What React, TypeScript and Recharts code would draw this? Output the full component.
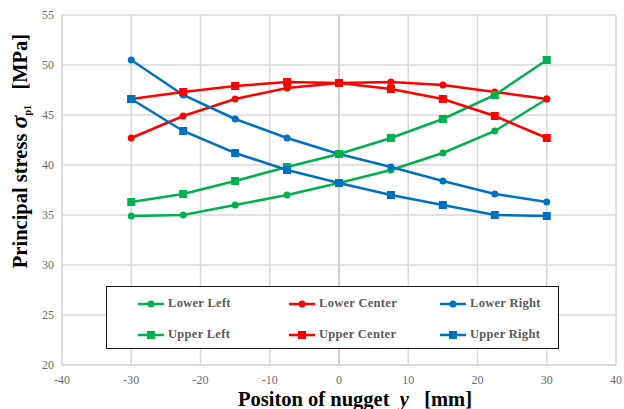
import { LineChart, Line, XAxis, YAxis, CartesianGrid, ReferenceLine, Label } from 'recharts';

const positions = [-30, -22.5, -15, -7.5, 0, 7.5, 15, 22.5, 30];
const lowerLeft = [34.9, 35.0, 36.0, 37.0, 38.2, 39.5, 41.2, 43.4, 46.6];
const lowerCenter = [42.7, 44.9, 46.6, 47.7, 48.2, 48.3, 48.0, 47.3, 46.6];
const lowerRight = [50.5, 47.0, 44.6, 42.7, 41.1, 39.8, 38.4, 37.1, 36.3];
const upperLeft = [36.3, 37.1, 38.4, 39.8, 41.1, 42.7, 44.6, 47.0, 50.5];
const upperCenter = [46.6, 47.3, 47.9, 48.3, 48.2, 47.6, 46.6, 44.9, 42.7];
const upperRight = [46.6, 43.4, 41.2, 39.5, 38.2, 37.0, 36.0, 35.0, 34.9];
const xTicks = [-40, -30, -20, -10, 0, 10, 20, 30, 40];
const yTicks = [20, 25, 30, 35, 40, 45, 50, 55];

const GREEN = '#00b050';
const RED = '#ff0000';
const BLUE = '#0070c0';

const data = positions.map((x, i) => ({
  x,
  ll: lowerLeft[i],
  lc: lowerCenter[i],
  lr: lowerRight[i],
  ul: upperLeft[i],
  uc: upperCenter[i],
  ur: upperRight[i],
}));

const series = [
  { key: 'll', name: 'Lower Left', color: GREEN, shape: 'circle' },
  { key: 'lc', name: 'Lower Center', color: RED, shape: 'circle' },
  { key: 'lr', name: 'Lower Right', color: BLUE, shape: 'circle' },
  { key: 'ul', name: 'Upper Left', color: GREEN, shape: 'square' },
  { key: 'uc', name: 'Upper Center', color: RED, shape: 'square' },
  { key: 'ur', name: 'Upper Right', color: BLUE, shape: 'square' },
];

const serif = "'Liberation Serif', 'Times New Roman', serif";

const squareDot = (color: string) => (props: any) => {
  const { cx, cy, index } = props;
  if (cx == null || cy == null) return <g key={index} />;
  return <rect key={index} x={cx - 4} y={cy - 4} width={8} height={8} fill={color} />;
};

function LegendBox() {
  return (
    <div
      style={{
        position: 'absolute',
        left: 106,
        top: 286,
        width: 453,
        height: 63,
        boxSizing: 'border-box',
        border: '1.5px solid #1a1a1a',
        background: '#fff',
        display: 'grid',
        gridTemplateColumns: '151px 151px 151px',
        gridTemplateRows: '31px 31px',
        paddingTop: 1,
        fontFamily: serif,
        fontWeight: 'bold',
        fontSize: 12.5,
        color: '#595959',
        letterSpacing: 0.3,
      }}
    >
      {series.map((s) => (
        <div key={s.key} style={{ display: 'flex', alignItems: 'center', paddingLeft: 30 }}>
          <svg width={28} height={10} style={{ marginRight: 3 }}>
            <line x1={1} y1={5} x2={27} y2={5} stroke={s.color} strokeWidth={2.5} />
            {s.shape === 'circle' ? (
              <circle cx={14} cy={5} r={3.5} fill={s.color} />
            ) : (
              <rect x={10} y={1} width={8} height={8} fill={s.color} />
            )}
          </svg>
          <span>{s.name}</span>
        </div>
      ))}
    </div>
  );
}

export default function App() {
  return (
    <div style={{ position: 'absolute', left: 0, top: 0, width: 624, height: 409, background: '#fff' }}>
      <LineChart
        width={624}
        height={409}
        data={data}
        margin={{ top: 15, right: 8, left: 0, bottom: 0 }}
        style={{ fontFamily: serif }}
      >
        <CartesianGrid stroke="#d9d9d9" strokeWidth={1.5} />
        <ReferenceLine x={0} stroke="#c8c8c8" strokeWidth={1.5} />
        <XAxis
          dataKey="x"
          type="number"
          domain={[-40, 40]}
          ticks={xTicks}
          interval={0}
          height={44}
          axisLine={{ stroke: '#d9d9d9', strokeWidth: 1.5 }}
          tickLine={false}
          tickMargin={4}
          tick={{ fill: '#6b6b6b', fontSize: 12, style: { fontFamily: serif } }}
        >
          <Label
            content={() => (
              <text x={355} y={406} textAnchor="middle" fontWeight="bold" fontSize={20.5} fill="#000" style={{ fontFamily: serif }}>
                Positon of nugget{'\u00a0\u00a0'}
                <tspan fontStyle="italic">y</tspan>
                {'\u00a0\u00a0\u00a0'}[mm]
              </text>
            )}
          />
        </XAxis>
        <YAxis
          type="number"
          domain={[20, 55]}
          ticks={yTicks}
          interval={0}
          width={62}
          axisLine={{ stroke: '#d9d9d9', strokeWidth: 1.5 }}
          tickLine={false}
          tick={{ fill: '#6b6b6b', fontSize: 12, style: { fontFamily: serif } }}
        >
          <Label
            content={() => (
              <text
                x={0}
                y={0}
                transform="translate(27,151) rotate(-90)"
                textAnchor="middle"
                fontWeight="bold"
                fontSize={20.5}
                fill="#000"
                style={{ fontFamily: serif }}
              >
                Principal stress{'\u00a0'}
                <tspan fontStyle="italic" fontSize={24}>σ</tspan>
                <tspan fontSize={10} dy={4}>p1</tspan>
                <tspan dy={-4}>{'\u00a0\u00a0\u00a0'}[MPa]</tspan>
              </text>
            )}
          />
        </YAxis>
        {series.map((s) => (
          <Line
            key={s.key}
            dataKey={s.key}
            name={s.name}
            type="linear"
            stroke={s.color}
            strokeWidth={2.5}
            dot={s.shape === 'circle' ? { r: 3.5, fill: s.color, stroke: s.color, strokeWidth: 0 } : squareDot(s.color)}
            activeDot={false}
            isAnimationActive={false}
          />
        ))}
      </LineChart>
      <LegendBox />
    </div>
  );
}
